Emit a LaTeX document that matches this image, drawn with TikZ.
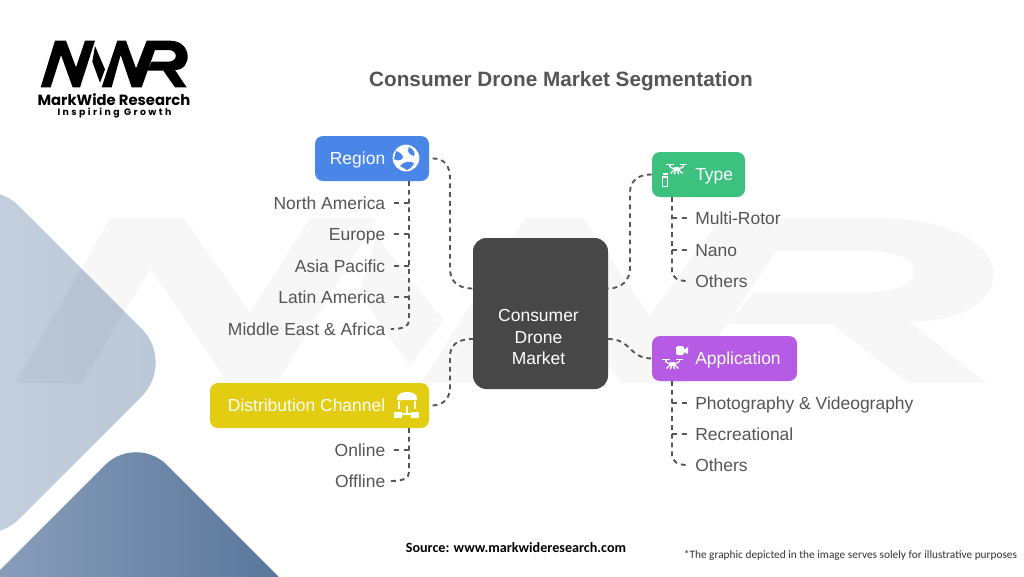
\documentclass[tikz,border=0pt]{standalone}
\usepackage{fontspec}
\setmainfont{Liberation Sans}
\newfontfamily\logofont{Poppins}
\newfontfamily\notefont{Carlito}
\definecolor{txt}{HTML}{555555}
\definecolor{hubc}{HTML}{474747}
\definecolor{regc}{HTML}{4A86E8}
\definecolor{typc}{HTML}{3DC17F}
\definecolor{appc}{HTML}{B65BE4}
\definecolor{disc}{HTML}{E2CD12}
\definecolor{lta}{HTML}{CDD7E3}
\definecolor{ltb}{HTML}{B9C7D7}
\definecolor{dka}{HTML}{93A6C1}
\definecolor{dkb}{HTML}{4F6E95}
\newcommand{\mwrpaths}[1]{%
 \fill[#1] (122,202)--(165,62)--(198,62)--(228,142)--(255,62)--(285,62)--(240,202)--(218,202)--(183,105)--(152,202)--cycle;
 \fill[#1] (285,78)--(315,148)--(300,188)--(277,125)--cycle;
 \fill[#1] (305,202)--(352,62)--(378,62)--(408,145)--(440,62)--(510,62) .. controls (578,62) and (578,150) .. (525,150)--(560,202)--(525,202)--(490,152)--(443,152)--(455,125)--(505,125) .. controls (535,125) and (535,90) .. (505,90)--(465,90)--(425,202)--(395,202)--(362,105)--(335,202)--cycle;
}
\tikzset{
 px/.style={x=0.75pt,y=-0.75pt},
 link/.style={draw=txt,line width=1.4pt,dash pattern=on 3.6pt off 3pt},
 tick/.style={draw=txt,line width=1.4pt,dash pattern=on 4pt off 3.6pt},
 box/.style={rounded corners=6pt,inner sep=0pt,draw=none},
 item/.style={inner sep=0pt,text=txt,text height=11.5pt,text depth=2.3pt,font=\fontsize{13.1pt}{15pt}\selectfont},
 boxlabel/.style={inner sep=0pt,text=white,text height=11.5pt,text depth=2.3pt,font=\fontsize{13.1pt}{15pt}\selectfont},
 pics/dronei/.style={code={
   \fill[white] (-3.5,-2.5) rectangle (3.5,3);
   \fill[white] (-14,-7) rectangle (-4,-5.5);
   \fill[white] (4,-7) rectangle (14,-5.5);
   \fill[white] (-9.5,-7) rectangle (-8,-3);
   \fill[white] (8,-7) rectangle (9.5,-3);
   \draw[white,line width=1pt] (-9,-3)--(-3,0) (9,-3)--(3,0) (-3,1)--(-8,6) (3,1)--(8,6) (-1.5,3)--(-3,7) (1.5,3)--(3,7);
 }}
}
\begin{document}
\begin{tikzpicture}[px]
\useasboundingbox (0,0) rectangle (1024,576);
\fill[white] (0,0) rectangle (1024,576);
% background shapes
\begin{scope}
\clip (0,0) rectangle (1024,576);
\shade[left color=lta,right color=ltb,rounded corners=36pt] (175.5,362.5)--(-15,172)--(-200,362)--(-15,553)--cycle;
\shade[shading angle=125,left color=dka,right color=dkb,rounded corners=33pt] (136,434)--(-62,632)--(334,632)--cycle;
\end{scope}
% watermark
\begin{scope}[shift={(15-2.219*122,218-1.18*62)},x=2.219*0.75pt,y=-1.18*0.75pt]
\mwrpaths{black,opacity=0.03}
\end{scope}
% logo
\begin{scope}[shift={(0,20)},x=0.25pt,y=-0.25pt]
\mwrpaths{black}
\end{scope}
\node[inner sep=0pt,font=\logofont\bfseries\fontsize{11.1pt}{12pt}\selectfont] (lg1) at (114,99.5) {MarkWide Research};
\node[inner sep=0pt,font=\fontsize{7pt}{9pt}\selectfont] (lg2) at (114.5,113) {\logofont\bfseries\addfontfeatures{LetterSpace=26}Inspiring Growth};
% title
\node[inner sep=0pt,text=txt,font=\bfseries\fontsize{15.55pt}{19pt}\selectfont] (title) at (561,81) {Consumer Drone Market Segmentation};
% hub
\node[box,fill=hubc,rounded corners=10pt,minimum width=101.25pt,minimum height=113.25pt] (hub) at (540.5,313.5) {};
\node[inner sep=0pt,align=center,text=white,font=\fontsize{13.1pt}{15.8pt}\selectfont] (hubt) at (538.5,337) {Consumer\\Drone\\Market};
\coordinate (hl1) at (473,288.5);
\coordinate (hl2) at (473,339);
\coordinate (hr1) at (608,288.5);
\coordinate (hr2) at (608,339);
% branch boxes
\node[box,fill=regc,minimum width=85.5pt,minimum height=33.75pt] (region) at (372,158.5) {};
\node[box,fill=typc,minimum width=69.75pt,minimum height=33.75pt] (type) at (698.5,174.5) {};
\node[box,fill=appc,minimum width=108.75pt,minimum height=33.75pt] (app) at (724.5,358.5) {};
\node[box,fill=disc,minimum width=164.25pt,minimum height=33.75pt] (dist) at (319.5,405.5) {};
\node[boxlabel,anchor=east] (regiont) at (385.5,158) {Region};
\node[boxlabel,anchor=west] (typet) at (695,174) {Type};
\node[boxlabel,anchor=west] (appt) at (695,358) {Application};
\node[boxlabel,anchor=east] (distt) at (385.5,405) {Distribution Channel};
% items
\foreach \n/\y/\t in {na/203/North America,eu/234/Europe,ap/266/Asia Pacific,la/297/Latin America,me/329/Middle East \& Africa,on/450/Online,of/481/Offline}
 \node[item,anchor=east] (\n) at (385.5,\y) {\t};
\foreach \n/\y/\t in {mr/218/Multi-Rotor,nn/250/Nano,ot/281/Others,ph/403/Photography \& Videography,re/434/Recreational,oa/465/Others}
 \node[item,anchor=west] (\n) at (695,\y) {\t};
% connectors hub-branch
\draw[link] ([xshift=2.5pt]region.east) .. controls (444,158) and (450,166) .. (450,178) -- (450,268) .. controls (450,280) and (456,288.5) .. (hl1);
\draw[link] (type.west) .. controls (640,174) and (630,180) .. (630,192) -- (630,268) .. controls (630,280) and (622,288.5) .. (hr1);
\draw[link] (hr2) .. controls (632,339) and (628,358) .. (app.west);
\draw[link] ([xshift=2.5pt]dist.east) .. controls (444,405) and (450,398) .. (450,387) -- (450,357) .. controls (450,346) and (456,339) .. (hl2);
% spines
\coordinate (rs) at (409,181);
\coordinate (ds) at (409,428);
\coordinate (ts) at (672,197);
\coordinate (as) at (672,381);
\draw[link] (rs) -- (409,320) .. controls (409,326) and (404,329) .. ([xshift=4pt]me.east);
\draw[link] (ds) -- (409,472) .. controls (409,478) and (404,481) .. ([xshift=4pt]of.east);
\draw[link] (ts) -- (672,271) .. controls (672,277) and (677,281.5) .. ([xshift=-4pt]ot.west);
\draw[link] (as) -- (672,455) .. controls (672,461) and (677,465.5) .. ([xshift=-4pt]oa.west);
\foreach \n in {na,eu,ap,la} \draw[tick] (\n.east -| rs) -- ([xshift=6pt]\n.east);
\draw[tick] (on.east -| ds) -- ([xshift=6pt]on.east);
\foreach \n in {mr,nn} \draw[tick] (\n.west -| ts) -- ([xshift=-5.5pt]\n.west);
\foreach \n in {ph,re} \draw[tick] (\n.west -| as) -- ([xshift=-5.5pt]\n.west);
% region icon
\fill[white] (406,158) circle[radius=10pt];
\fill[regc] (396,151) .. controls (400,152) and (403,155) .. (403,158) .. controls (400,161) and (397,161) .. (394,159) -- cycle;
\fill[regc] (409,147) .. controls (413,149) and (416,153) .. (414,156) .. controls (410,155) and (406,152) .. cycle;
\fill[regc] (400,166) .. controls (404,161) and (410,161) .. (414,163) .. controls (414,165) and (410,169) .. (407,170) .. controls (405,168) and (402,168) .. cycle;
% type icon
\pic[scale=.75] at (676.5,169) {dronei};
\fill[white] (662,176) rectangle (668,187);
\fill[typc] (663.3,177.5) rectangle (666.7,185.7);
\fill[white] (662.5,172.5) rectangle (667.5,174.5);
% application icon
\pic[scale=.75] at (672.5,364) {dronei};
\fill[white,rounded corners=1.2pt] (676,346) rectangle (684,355);
\fill[white] (684,349.5)--(688,347)--(688,354)--(684,352)--cycle;
% distribution icon
\fill[white] (397,398) .. controls (397,390) and (417,390) .. (417,398) -- (417,400) -- (397,400) -- cycle;
\draw[white,line width=1.3pt] (399,401)--(399,409) (415,401)--(415,409);
\draw[white,line width=.9pt] (407,406)--(407,414) (402,414)--(411,414);
\fill[white] (393.5,411.5) rectangle (402,418);
\fill[white] (411,411.5) rectangle (418.5,418);
% footer
\node[inner sep=0pt,font=\notefont\bfseries\fontsize{10.6pt}{12pt}\selectfont] (src) at (516,548) {Source: www.markwideresearch.com};
\node[inner sep=0pt,text=black!80,font=\notefont\fontsize{8.5pt}{11pt}\selectfont] (note) at (850.5,555.5) {*The graphic depicted in the image serves solely for illustrative purposes};
\end{tikzpicture}
\end{document}
